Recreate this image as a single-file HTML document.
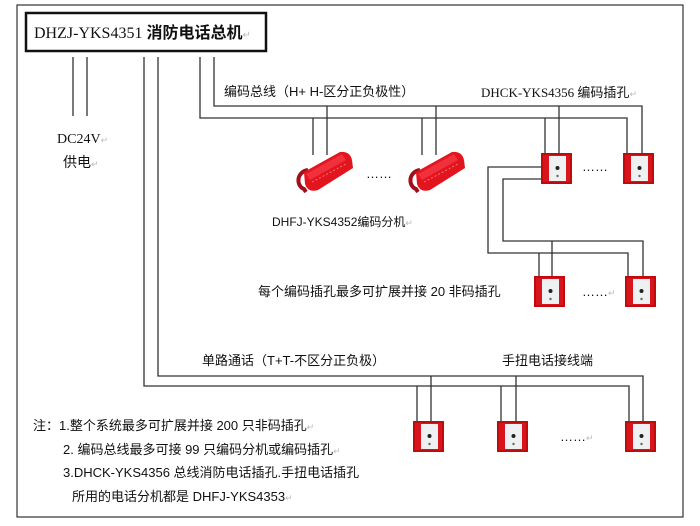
<!DOCTYPE html>
<html><head><meta charset="utf-8"><style>
body{margin:0;background:#fff;}
svg{display:block;}
text{font-family:"Liberation Serif","Noto Sans CJK SC",serif;fill:#111;}
.s{font-family:"Liberation Sans","Noto Sans CJK SC",sans-serif;}
</style></head><body>
<svg width="700" height="526" viewBox="0 0 700 526" xmlns="http://www.w3.org/2000/svg">
<defs>
<g id="card">
<rect x="0" y="0" width="31" height="31" fill="#d8141c"/>
<rect x="1" y="1" width="29" height="29" fill="none" stroke="#a00" stroke-width="1"/>
<rect x="8" y="3" width="17" height="25" fill="#eef0f2"/>
<circle cx="16.5" cy="15" r="2" fill="#222"/>
<circle cx="16.5" cy="23" r="1.2" fill="#666"/>
</g>
<g id="phone">
<path d="M12 18 C0 20 0 34 8 37 L10 40" stroke="#a0101a" stroke-width="4" fill="none"/>
<path d="M8 20 L44 0 Q54 -1 56 8 L57 16 L22 38 Q12 41 9 32 Z" fill="#e2141e"/>
<path d="M10 22 L46 2 L50 8 L14 28 Z" fill="#f0303a"/>
<path d="M16 30 L50 12" stroke="#ff7070" stroke-width="1" stroke-dasharray="2 2"/>
</g>
</defs>
<rect x="17" y="5" width="666" height="512" fill="none" stroke="#333" stroke-width="1.2"/>
<rect x="26" y="13" width="240" height="38" fill="#fff" stroke="#111" stroke-width="2.5"/>
<text x="34" y="38" font-size="16">DHZJ-YKS4351 <tspan font-weight="bold" class="s">消防电话总机</tspan><tspan fill="#bbb" font-size="10">↵</tspan></text>
<g stroke="#333" stroke-width="1.3" fill="none">
<path d="M73 57V116M87 57V116"/>
<path d="M144 57V386H629V421M158 57V376H643V421"/>
<path d="M417 386V421M431 376V421M501 386V421M516 376V421"/>
<path d="M214 57V106H642V153M200 57V118H627V153"/>
<path d="M313 118V155M327 106V155M422 118V155M436 106V155"/>
<path d="M545 118V153M559 106V153"/>
<path d="M541 167H488V253H628V276M541 179H503V241H643V276"/>
<path d="M539 253V276M552 241V276"/>
</g>
<use href="#card" x="541" y="153"/>
<use href="#card" x="623" y="153"/>
<use href="#card" x="534" y="276"/>
<use href="#card" x="625" y="276"/>
<use href="#card" x="413" y="421"/>
<use href="#card" x="497" y="421"/>
<use href="#card" x="625" y="421"/>
<use href="#phone" x="296" y="152"/>
<use href="#phone" x="408" y="152"/>
<text x="57" y="143" font-size="14">DC24V<tspan fill="#bbb" font-size="9">↵</tspan></text>
<text x="63" y="167" font-size="14" class="s">供电<tspan fill="#bbb" font-size="9">↵</tspan></text>
<text x="224" y="96" font-size="13" class="s">编码总线（H+ H-区分正负极性）</text>
<text x="481" y="97" font-size="13">DHCK-YKS4356 <tspan class="s">编码插孔</tspan><tspan fill="#bbb" font-size="9">↵</tspan></text>
<text x="366" y="178" font-size="13" class="s">……</text>
<text x="582" y="171" font-size="13" class="s">……</text>
<text x="272" y="226" font-size="12" class="s">DHFJ-YKS4352编码分机<tspan fill="#bbb" font-size="9">↵</tspan></text>
<text x="258" y="296" font-size="13" class="s">每个编码插孔最多可扩展并接 20 非码插孔</text>
<text x="582" y="296" font-size="13" class="s">……<tspan fill="#bbb" font-size="9">↵</tspan></text>
<text x="202" y="365" font-size="13" class="s">单路通话（T+T-不区分正负极）</text>
<text x="502" y="365" font-size="13" class="s">手扭电话接线端</text>
<text x="560" y="441" font-size="13" class="s">……<tspan fill="#bbb" font-size="9">↵</tspan></text>
<text x="33" y="430" font-size="13" class="s">注：1.整个系统最多可扩展并接 200 只非码插孔<tspan fill="#bbb" font-size="9">↵</tspan></text>
<text x="63" y="454" font-size="13" class="s">2. 编码总线最多可接 99 只编码分机或编码插孔<tspan fill="#bbb" font-size="9">↵</tspan></text>
<text x="63" y="477" font-size="13" class="s">3.DHCK-YKS4356 总线消防电话插孔.手扭电话插孔</text>
<text x="72" y="501" font-size="13" class="s">所用的电话分机都是 DHFJ-YKS4353<tspan fill="#bbb" font-size="9">↵</tspan></text>
</svg>
</body></html>
